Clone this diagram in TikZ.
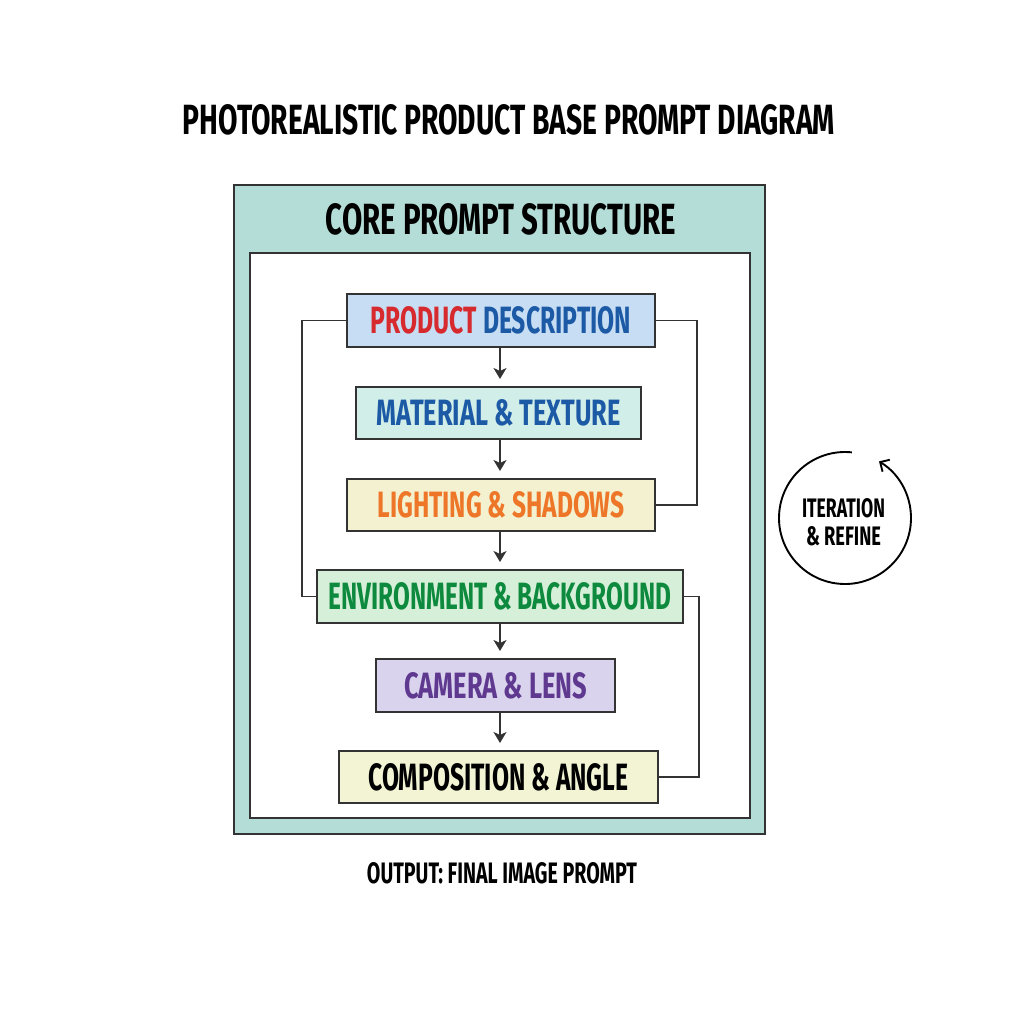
\documentclass[tikz,border=0pt]{standalone}
\usepackage{fontspec}
\usepackage{graphicx}
\usetikzlibrary{arrows.meta}
\newfontfamily\cond{Fira Sans}[FakeStretch=0.72]
\newcommand\fitt[3]{\resizebox{#1pt}{#2pt}{\cond\bfseries #3}}
\definecolor{frame}{HTML}{333333}
\definecolor{tealbg}{HTML}{B3DDD6}
\definecolor{fprod}{HTML}{C6DDF3}
\definecolor{fmat}{HTML}{D2EEE8}
\definecolor{flight}{HTML}{F3F1CF}
\definecolor{fenv}{HTML}{D5EFD8}
\definecolor{fcam}{HTML}{DAD3EE}
\definecolor{fcomp}{HTML}{F2F4D3}
\definecolor{cred}{HTML}{D62A2E}
\definecolor{cblue}{HTML}{1C5AA6}
\definecolor{corange}{HTML}{EE7628}
\definecolor{cgreen}{HTML}{0E8A3E}
\definecolor{cpurple}{HTML}{5F3990}
\tikzset{
  stagebox/.style={draw=frame, line width=1.8pt, inner sep=0pt, outer sep=0pt},
  flowarrow/.style={draw=frame, line width=1.7pt, -{Stealth[length=11pt,width=13pt,inset=3pt]}, shorten >=8pt},
  loopline/.style={draw=frame, line width=1.7pt},
  lbl/.style={inner sep=0pt, outer sep=0pt}
}
\begin{document}
\begin{tikzpicture}[x=1pt,y=-1pt]
\useasboundingbox[fill=white] (0,0) rectangle (1024,1024);

% title
\node[lbl] (title) at (509,120) {\fitt{652}{30}{PHOTOREALISTIC PRODUCT BASE PROMPT DIAGRAM}};

% frames
\draw[fill=tealbg, draw=frame, line width=1.8pt] (234,185) rectangle (765,834);
\draw[fill=white, draw=frame, line width=1.8pt] (250,253) rectangle (750,818);
\node[lbl] (core) at (501,219.5) {\fitt{350}{31}{CORE PROMPT STRUCTURE}};

% stages
\node[stagebox, fill=fprod, minimum width=308pt, minimum height=53pt] (prod) at (501,320.5)
  {\fitt{260}{27}{\color{cred}PRODUCT \color{cblue}DESCRIPTION}};
\node[stagebox, fill=fmat, minimum width=285pt, minimum height=52pt] (mat) at (498.5,413)
  {\fitt{244}{26}{\color{cblue}MATERIAL \& TEXTURE}};
\node[stagebox, fill=flight, minimum width=308pt, minimum height=52pt] (light) at (501,505)
  {\fitt{247}{26}{\color{corange}LIGHTING \& SHADOWS}};
\node[stagebox, fill=fenv, minimum width=366pt, minimum height=53pt] (env) at (500,596.5)
  {\fitt{342}{27}{\color{cgreen}ENVIRONMENT \& BACKGROUND}};
\node[stagebox, fill=fcam, minimum width=239pt, minimum height=53pt] (cam) at (495.5,685.5)
  {\fitt{183}{26}{\color{cpurple}CAMERA \& LENS}};
\node[stagebox, fill=fcomp, minimum width=319pt, minimum height=52pt] (comp) at (498.5,777)
  {\fitt{260}{27}{\color{black}COMPOSITION \& ANGLE}};

% vertical arrows
\coordinate (ax) at (500,0);
\draw[flowarrow] (ax |- prod.south) -- (ax |- mat.north);
\draw[flowarrow] (ax |- mat.south) -- (ax |- light.north);
\draw[flowarrow] (ax |- light.south) -- (ax |- env.north);
\draw[flowarrow] (ax |- env.south) -- (ax |- cam.north);
\draw[flowarrow] (ax |- cam.south) -- (ax |- comp.north);

% loop lines
\coordinate (lx) at (302,0);
\coordinate (rx1) at (697,0);
\coordinate (rx2) at (699,0);
\draw[loopline] (prod.west) -- (prod.west -| lx) -- (env.west -| lx) -- (env.west);
\draw[loopline] (prod.east) -- (prod.east -| rx1) -- (light.east -| rx1) -- (light.east);
\draw[loopline] (env.east) -- (env.east -| rx2) -- (comp.east -| rx2) -- (comp.east);

% iteration cycle
\coordinate (iter) at (845,518);
\draw[draw=black, line width=1.9pt, -{Straight Barb[length=7pt,width=14pt]}]
  (iter) ++(-84:66) arc[start angle=-84, end angle=-419, radius=66];
\node[lbl] (it1) at (843.5,508) {\fitt{83}{19}{ITERATION}};
\node[lbl] (it2) at (843.5,536) {\fitt{75}{19}{\& REFINE}};

% output
\node[lbl] (out) at (502,873.5) {\fitt{270}{21}{OUTPUT: FINAL IMAGE PROMPT}};
\end{tikzpicture}
\end{document}
